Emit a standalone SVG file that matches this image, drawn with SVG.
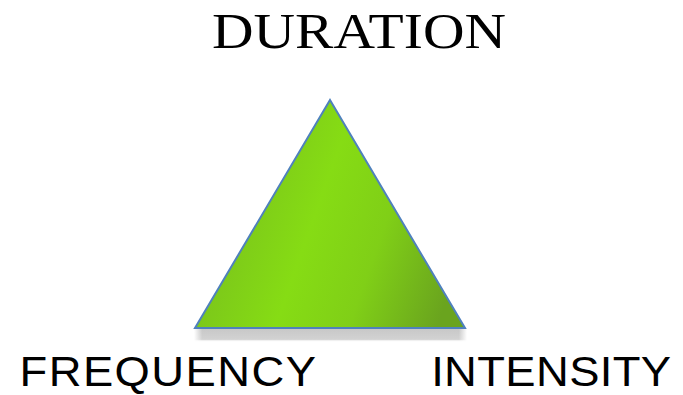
<svg xmlns="http://www.w3.org/2000/svg" width="683" height="395" viewBox="0 0 683 395">
  <defs>
    <linearGradient id="green" x1="0" y1="0.35" x2="1" y2="0.65">
      <stop offset="0" stop-color="#76bb1e"/>
      <stop offset="0.45" stop-color="#86dc14"/>
      <stop offset="0.7" stop-color="#80cf17"/>
      <stop offset="1" stop-color="#6aa41e"/>
    </linearGradient>
    <linearGradient id="shadow" x1="0" y1="0" x2="0" y2="1">
      <stop offset="0" stop-color="#c8c8c8"/>
      <stop offset="0.8" stop-color="#d2d2d2"/>
      <stop offset="1" stop-color="#ffffff" stop-opacity="0"/>
    </linearGradient>
    <linearGradient id="shadowEdge" x1="0" y1="0" x2="1" y2="0">
      <stop offset="0" stop-color="#fff" stop-opacity="1"/>
      <stop offset="0.03" stop-color="#fff" stop-opacity="0"/>
      <stop offset="0.97" stop-color="#fff" stop-opacity="0"/>
      <stop offset="1" stop-color="#fff" stop-opacity="1"/>
    </linearGradient>
  </defs>
  <style>
    .serif { font-family: "Liberation Serif", "Times New Roman", serif; fill: #000; }
    .sans { font-family: "Liberation Sans", Arial, sans-serif; fill: #000; }
  </style>
  <rect width="683" height="395" fill="#ffffff"/>
  <g id="triangle">
    <rect x="194" y="329" width="273" height="13" fill="url(#shadow)"/>
    <rect x="194" y="329" width="273" height="13" fill="url(#shadowEdge)"/>
    <polygon points="330,100 465,328 195,328" fill="url(#green)" stroke="#4f81bd" stroke-width="2" stroke-linejoin="miter"/>
  </g>
  <g id="duration">
    <text class="serif" x="212" y="48" font-size="50" textLength="294" lengthAdjust="spacingAndGlyphs">DURATION</text>
  </g>
  <g id="frequency" transform="scale(1.08,1)">
    <text class="sans" x="18.1" y="386" font-size="42" textLength="274.4" lengthAdjust="spacing">FREQUENCY</text>
  </g>
  <g id="intensity" transform="scale(1.08,1)">
    <text class="sans" x="399.2" y="386" font-size="42" textLength="222.2" lengthAdjust="spacing">INTENSITY</text>
  </g>
  <g id="connectors"></g>
</svg>
